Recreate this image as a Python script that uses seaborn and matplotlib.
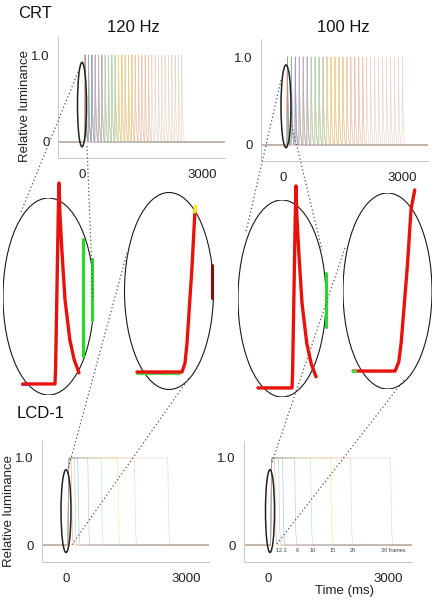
import numpy as np
import pandas as pd
import seaborn as sns
import matplotlib.pyplot as plt
from matplotlib.patches import Ellipse

# ---- data ----
frames = [1, 2, 3, 6, 10, 15, 20, 30]
frame_colors = ['#e8736f', '#7fcf72', '#7f8fe0', '#c48fd0',
                '#86d5dc', '#e6dc6a', '#f0b69a', '#d9b9a6']

rates = ['120 Hz', '100 Hz']
refresh_ms = [83.3, 100.0]
crt_onset = [70, 100]
lcd_onset = [40, 60]

# one CRT phosphor flash (ms after frame onset, relative luminance)
crt_pulse_t = [0, 1.5, 8, 10, 12, 17, 25, 37, 48, 60, 72]
crt_pulse_v = [0, 0.08, 0.83, 1.0, 0.86, 0.67, 0.42, 0.22, 0.12, 0.055, 0.0]

# LCD rise and fall edges
lcd_rise_t = [0, 6, 10, 20, 26, 32, 40]
lcd_rise_v = [0, 0.047, 0.15, 0.55, 0.85, 0.95, 1.0]
lcd_fall_t = [0, 8, 20, 35, 50, 70]
lcd_fall_v = [1.0, 0.9, 0.5, 0.15, 0.03, 0.0]

frame_labels = ['1', '2 3', '6', '10', '15', '20', '30 frames']
frame_label_at = [1, 2.5, 6, 10, 15, 20, 30]

W, H = 435, 601


def rect(l, t, r, b):
    return [l / W, 1 - b / H, (r - l) / W, (b - t) / H]


def crt_trace(n, T, onset, xmin, xmax):
    t, v = [xmin], [0.0]
    for k in range(n):
        t += [onset + k * T + p for p in crt_pulse_t]
        v += crt_pulse_v
    return t + [xmax], v + [0.0]


def lcd_trace(n, T, onset, xmin, xmax):
    off = onset + n * T
    t = [xmin] + [onset + p for p in lcd_rise_t] + [off + p for p in lcd_fall_t] + [xmax]
    v = [0.0] + lcd_rise_v + lcd_fall_v + [0.0]
    return t, v


sns.set_theme(style='white')
plt.rcParams['font.family'] = ['Liberation Sans', 'DejaVu Sans']

fig = plt.figure(figsize=(W / 100, H / 100), dpi=100)
fig.patch.set_facecolor('white')

panels = [
    # display, rate index, px rect, xlim, ylim, ellipse (x, y, w, h)
    ('CRT', 0, (58, 37, 225, 158), (-600, 3575), (-0.184, 1.207), (0, 0.43, 225, 0.97)),
    ('CRT', 1, (261, 39, 428, 161), (-555, 3655), (-0.182, 1.205), (75, 0.44, 252, 0.94)),
    ('LCD', 0, (42, 441, 209, 562), (-600, 3575), (-0.195, 1.195), (0, 0.39, 250, 0.95)),
    ('LCD', 1, (244, 441, 412, 562), (-600, 3600), (-0.195, 1.195), (50, 0.39, 225, 0.95)),
]

palette = dict(zip(frames, frame_colors))
for disp, ri, px, xl, yl, ell in panels:
    ax = fig.add_axes(rect(*px))
    rows = []
    for n in frames:
        if disp == 'CRT':
            t, v = crt_trace(n, refresh_ms[ri], crt_onset[ri], xl[0], xl[1])
        else:
            t, v = lcd_trace(n, refresh_ms[ri], lcd_onset[ri], xl[0], xl[1])
        rows.append(pd.DataFrame({'t': t, 'lum': v, 'frames': n}))
    df = pd.concat(rows, ignore_index=True)
    sns.lineplot(data=df, x='t', y='lum', hue='frames', hue_order=frames[::-1],
                 palette=palette, estimator=None, sort=False, legend=False,
                 lw=0.5, alpha=0.55, ax=ax)
    ax.set_xlim(*xl)
    ax.set_ylim(*yl)
    ax.set_xticks([0, 1000, 2000, 3000])
    ax.set_xticklabels(['0', '', '', '3000'])
    ax.set_yticks([0, 0.2, 0.4, 0.6, 0.8, 1.0])
    ax.set_yticklabels(['0', '', '', '', '', '1.0'])
    ax.tick_params(axis='both', direction='in', length=2.5, width=0.6,
                   color='#b8b8b8', labelsize=9.5, labelcolor='#222222', pad=6)
    ax.tick_params(axis='x', pad=8)
    ax.set_xlabel('')
    ax.set_ylabel('')
    sns.despine(ax=ax)
    for s in ['left', 'bottom']:
        ax.spines[s].set_color('#c8c8c8')
        ax.spines[s].set_linewidth(0.7)
    ax.set_facecolor('none')
    ax.add_patch(Ellipse((ell[0], ell[1]), ell[2], ell[3], fill=False,
                         ec='#222222', lw=1.1, zorder=5))
    if disp == 'LCD' and ri == 1:
        for lab, n in zip(frame_labels, frame_label_at):
            ax.text(lcd_onset[ri] + n * refresh_ms[ri] + 65, -0.06, lab,
                    fontsize=4, ha='center', va='center', color='#444444')

# ---- zoomed insets ----
red = '#e8120c'


def inset(px, xl, yl):
    ax = fig.add_axes(rect(*px))
    ax.set_xlim(*xl)
    ax.set_ylim(*yl)
    ax.axis('off')
    ax.add_patch(Ellipse((0.5, 0.5), 1, 1, transform=ax.transAxes,
                         fill=False, ec='#1a1a1a', lw=0.8))
    return ax


def cut(ts, vs, tmax):
    keep = [i for i, x in enumerate(ts) if x <= tmax]
    return [ts[i] for i in keep], [vs[i] for i in keep]


# CRT 120 Hz flash
a1 = inset((3, 198, 94, 395), (-130, 97.5), (-0.055, 0.925))
tt, vv = cut(crt_pulse_t, crt_pulse_v, 60)
a1.plot([-82, -72], [0, 0], color='#8a2be2', lw=2.2, clip_on=False)
a1.plot([70, 70], [0.14, 0.72], color='#22dd22', lw=2.2, clip_on=False)
a1.plot([92, 92], [0.32, 0.62], color='#22dd22', lw=2.2, clip_on=False)
a1.plot([-80] + tt, [0] + vv, color=red, lw=2.4, clip_on=False,
        solid_joinstyle='round')

# LCD 120 Hz rise
a2 = inset((124.5, 192.5, 213.5, 389.5), (-115, 63), (-0.092, 0.942))
tt, vv = cut(lcd_rise_t, lcd_rise_v, 26)
a2.plot([-90, -6], [-0.006, -0.006], color='#44dd44', lw=2.2, clip_on=False)
a2.plot([-60, -40], [-0.008, -0.008], color='#e040c0', lw=1.5, clip_on=False)
a2.plot([60, 60], [0.39, 0.56], color='#8b0a0a', lw=2.2, clip_on=False)
a2.plot([-90] + tt, [0] + vv, color=red, lw=2.4, clip_on=False,
        solid_joinstyle='round')
a2.plot([25.5, 27], [0.84, 0.87], color='#f4f020', lw=2.4, clip_on=False)

# CRT 100 Hz flash
a3 = inset((238, 200, 326, 397), (-135, 85), (-0.045, 0.93))
tt, vv = cut(crt_pulse_t, crt_pulse_v, 60)
a3.plot([85, 85], [0.30, 0.57], color='#22dd22', lw=2.2, clip_on=False)
a3.plot([-85] + tt, [0] + vv, color=red, lw=2.4, clip_on=False,
        solid_joinstyle='round')

# LCD 100 Hz rise
a4 = inset((343, 193, 432, 389), (-84.5, 60), (-0.094, 0.934))
tt, vv = cut(lcd_rise_t, lcd_rise_v, 32)
a4.plot([-68] + tt, [0] + vv, color=red, lw=2.4, clip_on=False,
        solid_joinstyle='round')
a4.plot([-69, -65], [0, 0], color='#44dd44', lw=2.4, clip_on=False)

# ---- overlay: text and dotted zoom guides in pixel space ----
ov = fig.add_axes([0, 0, 1, 1], zorder=10)
ov.set_xlim(0, W)
ov.set_ylim(H, 0)
ov.axis('off')
ov.patch.set_alpha(0)

guides = [
    ((78, 72), (21, 212)), ((87, 146), (93, 300)),
    ((127, 253), (67, 473)), ((189, 378), (71, 546)),
    ((281, 80), (246, 232)), ((291, 122), (322, 250)),
    ((345, 248), (272, 462)), ((404, 380), (276, 545)),
]
for (x0, y0), (x1, y1) in guides:
    ov.plot([x0, x1], [y0, y1], color='#555555', lw=0.9, ls=(0, (1, 2)))

ov.text(18, 13, 'CRT', fontsize=12, ha='left', va='center', color='#111111')
ov.text(133, 28, '120 Hz', fontsize=12, ha='center', va='center', color='#111111')
ov.text(343, 28, '100 Hz', fontsize=12, ha='center', va='center', color='#111111')
ov.text(17, 413, 'LCD-1', fontsize=12, ha='left', va='center', color='#111111')
ov.text(25, 106, 'Relative luminance', fontsize=9.5, rotation=90,
        ha='center', va='center', color='#222222')
ov.text(9, 511, 'Relative luminance', fontsize=9.5, rotation=90,
        ha='center', va='center', color='#222222')
ov.text(345, 591, 'Time (ms)', fontsize=9.5, ha='center', va='center',
        color='#222222')

fig.savefig('out.png', dpi=100, facecolor='white')
